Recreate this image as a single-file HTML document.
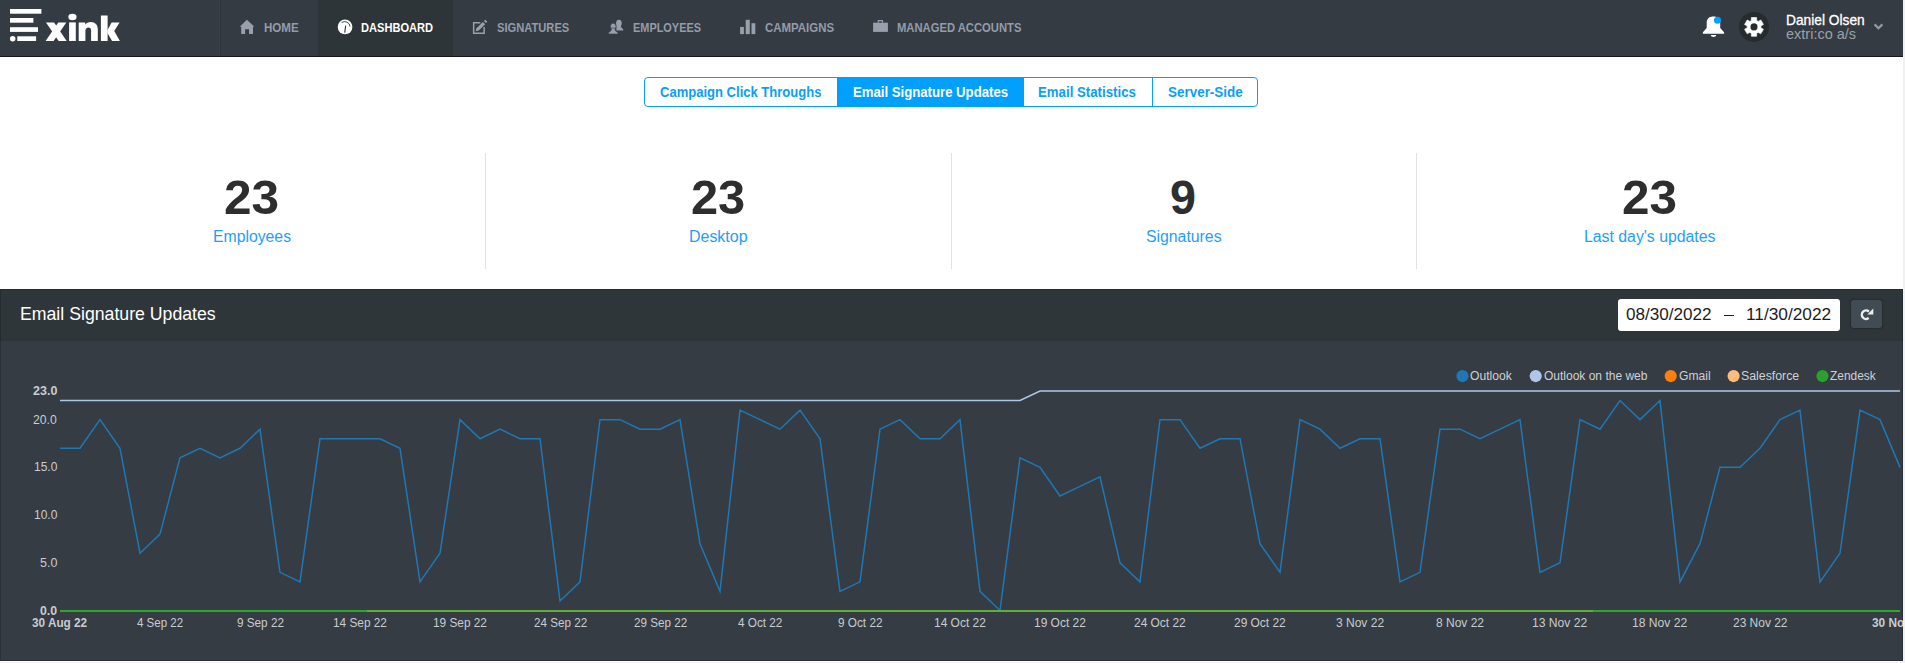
<!DOCTYPE html>
<html><head><meta charset="utf-8"><title>Xink Dashboard</title>
<style>
html,body{margin:0;padding:0;}
body{width:1905px;height:663px;overflow:hidden;background:#ffffff;font-family:"Liberation Sans",sans-serif;position:relative;}
.abs{position:absolute;}
.t{position:absolute;white-space:nowrap;display:inline-block;transform-origin:0 50%;}
#page{position:absolute;left:0;top:0;width:1903px;height:663px;overflow:hidden;background:#fff;}
#strip{position:absolute;left:1903px;top:0;width:2px;height:663px;background:#f1f1f1;}
#nav{position:absolute;left:0;top:0;width:1903px;height:56px;background:#353b43;border-bottom:1px solid #14181b;}
#navsep{position:absolute;left:220px;top:0;width:1px;height:56px;background:#2e3439;}
#navact{position:absolute;left:318px;top:0;width:135px;height:56px;background:#2e3539;}
#tabs{position:absolute;left:644px;top:77px;width:612px;height:28px;border:1px solid #0b9ef6;border-radius:4px;background:#fff;}
#tabact{position:absolute;left:837px;top:77px;width:187px;height:30px;background:#00a0fc;}
.tsep{position:absolute;top:77px;width:1px;height:30px;background:#0b9ef6;}
.div{position:absolute;top:153px;width:1px;height:116px;background:#e2e2e2;}
#phead{position:absolute;left:0;top:289px;width:1903px;height:52px;background:#2f363a;}
#pbody{position:absolute;left:0;top:341px;width:1903px;height:320px;background:#353c43;}
#date{position:absolute;left:1618px;top:299px;width:222px;height:32px;background:#fff;border-radius:3px;}
#refresh{position:absolute;left:1851px;top:300px;width:31px;height:28px;background:#414b53;border-radius:3px;box-shadow:0 0 1.5px 1px #252b2e;}
</style></head><body>
<div id="page">
<div id="nav"></div><div class="abs" style="left:219px;top:0;width:1px;height:56px;background:#394048"></div><div id="navsep"></div><div id="navact"></div>
<div id="tabs"></div><div id="tabact"></div>
<div class="tsep" style="left:1152px"></div>
<div class="div" style="left:485px"></div><div class="div" style="left:951px"></div><div class="div" style="left:1416px"></div>
<div id="phead"></div><div id="pbody"></div>
<div class="abs" style="left:0;top:289px;width:1901px;height:370px;border:1px solid rgba(0,0,0,0.2);"></div><div class="abs" style="left:0;top:662px;width:1903px;height:1px;background:#f3f3f3"></div><div id="date"></div><div id="refresh"></div><div class="abs" style="left:1723.5px;top:314.6px;width:10.8px;height:1.6px;background:#1c1c1c"></div>
<svg class="abs" style="left:0;top:0" width="1903" height="663" viewBox="0 0 1903 663"><polyline fill="none" stroke="#1f77b4" stroke-width="1.5" stroke-linejoin="miter" points="60,448.27 80,448.27 100,419.64 120,448.27 140,553.24 160,534.16 180,457.81 200,448.27 220,457.81 240,448.27 260,429.18 280,572.33 300,581.87 320,438.73 340,438.73 360,438.73 380,438.73 400,448.27 420,581.87 440,553.24 460,419.64 480,438.73 500,429.18 520,438.73 540,438.73 560,600.96 580,581.87 600,419.64 620,419.64 640,429.18 660,429.18 680,419.64 700,543.70 720,591.41 740,410.10 760,419.64 780,429.18 800,410.10 820,438.73 840,591.41 860,581.87 880,429.18 900,419.64 920,438.73 940,438.73 960,419.64 980,591.41 1000,610.50 1020,457.81 1040,467.36 1060,495.98 1080,486.44 1100,476.90 1120,562.78 1140,581.87 1160,419.64 1180,419.64 1200,448.27 1220,438.73 1240,438.73 1260,543.70 1280,572.33 1300,419.64 1320,429.18 1340,448.27 1360,438.73 1380,438.73 1400,581.87 1420,572.33 1440,429.18 1460,429.18 1480,438.73 1500,429.18 1520,419.64 1540,572.33 1560,562.78 1580,419.64 1600,429.18 1620,400.55 1640,419.64 1660,400.55 1680,581.87 1700,543.70 1720,467.36 1740,467.36 1760,448.27 1780,419.64 1800,410.10 1820,581.87 1840,553.24 1860,410.10 1880,419.64 1900,467.36"/><polyline fill="none" stroke="#aec7e8" stroke-width="1.5" points="60,400.55 80,400.55 100,400.55 120,400.55 140,400.55 160,400.55 180,400.55 200,400.55 220,400.55 240,400.55 260,400.55 280,400.55 300,400.55 320,400.55 340,400.55 360,400.55 380,400.55 400,400.55 420,400.55 440,400.55 460,400.55 480,400.55 500,400.55 520,400.55 540,400.55 560,400.55 580,400.55 600,400.55 620,400.55 640,400.55 660,400.55 680,400.55 700,400.55 720,400.55 740,400.55 760,400.55 780,400.55 800,400.55 820,400.55 840,400.55 860,400.55 880,400.55 900,400.55 920,400.55 940,400.55 960,400.55 980,400.55 1000,400.55 1020,400.55 1040,391.01 1060,391.01 1080,391.01 1100,391.01 1120,391.01 1140,391.01 1160,391.01 1180,391.01 1200,391.01 1220,391.01 1240,391.01 1260,391.01 1280,391.01 1300,391.01 1320,391.01 1340,391.01 1360,391.01 1380,391.01 1400,391.01 1420,391.01 1440,391.01 1460,391.01 1480,391.01 1500,391.01 1520,391.01 1540,391.01 1560,391.01 1580,391.01 1600,391.01 1620,391.01 1640,391.01 1660,391.01 1680,391.01 1700,391.01 1720,391.01 1740,391.01 1760,391.01 1780,391.01 1800,391.01 1820,391.01 1840,391.01 1860,391.01 1880,391.01 1900,391.01"/><rect x="60" y="610" width="307" height="2" fill="#2ca92c"/><rect x="367" y="610" width="1226" height="2" fill="#62ac38"/><rect x="1593" y="610" width="307" height="2" fill="#2ca92c"/><circle cx="1462.5" cy="376.05" r="6.1" fill="#1f77b4"/><circle cx="1535.7" cy="376.05" r="6.1" fill="#aec7e8"/><circle cx="1670.7" cy="376.05" r="6.1" fill="#ff7f0e"/><circle cx="1733.6" cy="376.05" r="6.1" fill="#ffbb78"/><circle cx="1822.5" cy="376.05" r="6.1" fill="#2ca02c"/></svg>
<svg class="abs" style="left:0;top:0" width="1903" height="663" viewBox="0 0 1903 663">
<g fill="#fff">
<rect x="10" y="9" width="31.4" height="4.7"/>
<rect x="10" y="18" width="23.4" height="4.7"/>
<rect x="10" y="27.2" width="28" height="4.7"/>
<circle cx="12.7" cy="38.75" r="2.75"/>
<rect x="17.3" y="36.3" width="18.8" height="4.7"/>
<path d="M46 22.4H54.1L66.7 41H58.7Z"/>
<path d="M58.3 22.4H66.3L53.6 41H45.6Z"/>
<rect x="69.1" y="22.4" width="6.7" height="18.6"/>
<ellipse cx="72.45" cy="17" rx="4.1" ry="3.3"/>
<path d="M78.7 41V22.4H85.2V24.7C86.4 23 88.4 22 90.7 22C95.3 22 97.8 24.9 97.8 29.5V41H91.1V30.6C91.1 28.5 90.2 27.4 88.5 27.4C86.6 27.4 85.4 28.7 85.4 30.9V41Z"/>
<rect x="100.9" y="15.5" width="6.7" height="25.5"/>
<path d="M107.4 30.2L111.6 22.4H119.6L114.2 31L119.9 41H112.1L107.4 33Z"/>
</g>
<path fill="#98a0ab" d="M246.9 19.7L254.4 26.8H253V34H249V29.2H245.1V34H241.2V26.8H239.7Z"/>
<circle cx="345.05" cy="26.95" r="7.35" fill="#fff"/>
<path d="M344.7 32.6L345.7 25.6" stroke="#2e3539" stroke-width="1.1" fill="none"/>
<path d="M341.6 22.6A5.3 5.3 0 0 1 350 26.6" stroke="#2e3539" stroke-width="0.9" fill="none"/>
<path d="M480.4 22.75H473.65V33.25H484.15V27" stroke="#98a0ab" stroke-width="1.5" fill="none"/>
<path d="M475.6 31.3L476.5 28.3L482.9 21.9L485.2 24.2L478.8 30.6Z" fill="#98a0ab"/>
<path d="M483.9 21L485.3 19.7L487.3 21.7L486 23.1Z" fill="#98a0ab"/>
<g fill="#98a0ab">
<ellipse cx="618.9" cy="23.2" rx="2.8" ry="3.4"/>
<path d="M616.4 30.6V25H620.9V26.6C621.3 28.5 623.4 28.2 623.4 30.6Z"/>
</g>
<g fill="#98a0ab" stroke="#353b43" stroke-width="0.6">
<ellipse cx="613.2" cy="26.5" rx="2.75" ry="3.35"/>
<path d="M608.3 34C608.3 31.4 610.9 31.9 611.3 30V28H615.1V30C615.5 31.9 618.2 31.4 618.2 34Z"/>
</g>
<g fill="#98a0ab">
<rect x="740.1" y="26.9" width="3.8" height="7.2"/>
<rect x="745.7" y="19.8" width="4.1" height="14.3"/>
<rect x="751.5" y="23.2" width="3.8" height="10.9"/>
</g>
<rect x="873.1" y="22.7" width="14.8" height="9.2" fill="#98a0ab"/>
<path d="M878.3 22.7V20.7H882.5V22.7" stroke="#98a0ab" stroke-width="1.2" fill="none"/>
<path fill="#fff" d="M1702.9 33.8V32.2L1706.7 28V22.6C1706.7 18.6 1709.5 16.5 1713.5 16.5C1717.5 16.5 1720.2 18.6 1720.2 22.6V28L1724.1 32.2V33.8Z"/>
<path fill="#fff" d="M1710.8 34.9H1716.2C1716.2 36.2 1715 36.9 1713.5 36.9C1712 36.9 1710.8 36.2 1710.8 34.9Z"/>
<circle cx="1717.5" cy="20.3" r="3.55" fill="#02a1fb"/>
<circle cx="1754.0" cy="26.9" r="15" fill="#262b2f"/>
<path fill="#fff" fill-rule="evenodd" stroke="#fff" stroke-width="0.6" stroke-linejoin="round" d="M1756.70 20.55L1756.61 17.50L1751.39 17.50L1751.30 20.55L1749.85 21.39L1747.17 19.95L1744.56 24.46L1747.15 26.06L1747.15 27.74L1744.56 29.34L1747.17 33.85L1749.85 32.41L1751.30 33.25L1751.39 36.30L1756.61 36.30L1756.70 33.25L1758.15 32.41L1760.83 33.85L1763.44 29.34L1760.85 27.74L1760.85 26.06L1763.44 24.46L1760.83 19.95L1758.15 21.39ZM1750.40 26.90A3.6 3.6 0 1 0 1757.60 26.90A3.6 3.6 0 1 0 1750.40 26.90Z"/>
<circle cx="1754.0" cy="26.9" r="3.3000000000000003" fill="#262b2f"/>
<path d="M1874.6 24.4L1878.5 28.3L1882.4 24.4" stroke="#939ba6" stroke-width="2.2" fill="none"/>
<path d="M1868.94 311.54A4.25 4.25 0 1 0 1868.72 318.05" stroke="#eceef0" stroke-width="2.4" fill="none"/>
<path d="M1873.3 308.6V314.4H1867.3Z" fill="#eceef0"/>
</svg>
<span id="t0" class="t" style="left:263.73px;top:21.50px;font-size:12.4px;line-height:12.4px;color:#949ca8;font-weight:bold;transform:scaleX(0.9346);">HOME</span>
<span id="t1" class="t" style="left:361.29px;top:21.50px;font-size:12.4px;line-height:12.4px;color:#ffffff;font-weight:bold;transform:scaleX(0.8951);">DASHBOARD</span>
<span id="t2" class="t" style="left:496.92px;top:21.50px;font-size:12.4px;line-height:12.4px;color:#949ca8;font-weight:bold;transform:scaleX(0.9003);">SIGNATURES</span>
<span id="t3" class="t" style="left:632.88px;top:21.50px;font-size:12.4px;line-height:12.4px;color:#949ca8;font-weight:bold;transform:scaleX(0.8822);">EMPLOYEES</span>
<span id="t4" class="t" style="left:764.64px;top:21.50px;font-size:12.4px;line-height:12.4px;color:#949ca8;font-weight:bold;transform:scaleX(0.9233);">CAMPAIGNS</span>
<span id="t5" class="t" style="left:897.06px;top:21.50px;font-size:12.4px;line-height:12.4px;color:#949ca8;font-weight:bold;transform:scaleX(0.9064);">MANAGED ACCOUNTS</span>
<span id="t6" class="t" style="left:1785.97px;top:12.80px;font-size:14.3px;line-height:14.3px;color:#ffffff;font-weight:normal;transform:scaleX(0.9616);-webkit-text-stroke:0.3px #fff;">Daniel Olsen</span>
<span id="t7" class="t" style="left:1786.13px;top:26.80px;font-size:14.3px;line-height:14.3px;color:#9aa1a9;font-weight:normal;transform:scaleX(1.0140);">extri:co a/s</span>
<span id="t8" class="t" style="left:660.21px;top:85.92px;font-size:13.8px;line-height:13.8px;color:#0b9ef6;font-weight:bold;transform:scaleX(0.9444);">Campaign Click Throughs</span>
<span id="t9" class="t" style="left:852.84px;top:85.92px;font-size:13.8px;line-height:13.8px;color:#ffffff;font-weight:bold;transform:scaleX(0.9537);">Email Signature Updates</span>
<span id="t10" class="t" style="left:1038.38px;top:85.92px;font-size:13.8px;line-height:13.8px;color:#0b9ef6;font-weight:bold;transform:scaleX(0.9598);">Email Statistics</span>
<span id="t11" class="t" style="left:1167.62px;top:85.92px;font-size:13.8px;line-height:13.8px;color:#0b9ef6;font-weight:bold;transform:scaleX(0.9746);">Server-Side</span>
<span id="t12" class="t" style="left:224.26px;top:174.47px;font-size:48px;line-height:48px;color:#2e2e2e;font-weight:bold;transform:scaleX(1.0323);">23</span>
<span id="t13" class="t" style="left:690.59px;top:174.47px;font-size:48px;line-height:48px;color:#2e2e2e;font-weight:bold;transform:scaleX(1.0154);">23</span>
<span id="t14" class="t" style="left:1170.28px;top:174.47px;font-size:48px;line-height:48px;color:#2e2e2e;font-weight:bold;transform:scaleX(0.9731);">9</span>
<span id="t15" class="t" style="left:1622.07px;top:174.47px;font-size:48px;line-height:48px;color:#2e2e2e;font-weight:bold;transform:scaleX(1.0293);">23</span>
<span id="t16" class="t" style="left:213.45px;top:229.26px;font-size:16px;line-height:16px;color:#1f9ef6;font-weight:normal;transform:scaleX(0.9857);">Employees</span>
<span id="t17" class="t" style="left:689.02px;top:229.26px;font-size:16px;line-height:16px;color:#1f9ef6;font-weight:normal;transform:scaleX(0.9971);">Desktop</span>
<span id="t18" class="t" style="left:1145.73px;top:229.26px;font-size:16px;line-height:16px;color:#1f9ef6;font-weight:normal;transform:scaleX(0.9875);">Signatures</span>
<span id="t19" class="t" style="left:1584.44px;top:229.26px;font-size:16px;line-height:16px;color:#1f9ef6;font-weight:normal;transform:scaleX(0.9890);">Last day&#39;s updates</span>
<span id="t20" class="t" style="left:20.02px;top:305.06px;font-size:18px;line-height:18px;color:#ffffff;font-weight:normal;transform:scaleX(0.9828);">Email Signature Updates</span>
<span id="t21" class="t" style="left:1625.73px;top:307.21px;font-size:16px;line-height:16px;color:#1c1c1c;font-weight:normal;transform:scaleX(1.0670);">08/30/2022</span>
<span id="t22" class="t" style="left:1745.98px;top:307.21px;font-size:16px;line-height:16px;color:#1c1c1c;font-weight:normal;transform:scaleX(1.0788);">11/30/2022</span>
<span id="t23" class="t" style="left:1470.08px;top:369.84px;font-size:12px;line-height:12px;color:#cfd2d5;font-weight:normal;transform:scaleX(1.0099);">Outlook</span>
<span id="t24" class="t" style="left:1543.61px;top:369.84px;font-size:12px;line-height:12px;color:#cfd2d5;font-weight:normal;transform:scaleX(1.0002);">Outlook on the web</span>
<span id="t25" class="t" style="left:1678.57px;top:369.84px;font-size:12px;line-height:12px;color:#cfd2d5;font-weight:normal;transform:scaleX(1.0099);">Gmail</span>
<span id="t26" class="t" style="left:1740.98px;top:369.84px;font-size:12px;line-height:12px;color:#cfd2d5;font-weight:normal;transform:scaleX(1.0262);">Salesforce</span>
<span id="t27" class="t" style="left:1830.17px;top:369.84px;font-size:12px;line-height:12px;color:#cfd2d5;font-weight:normal;transform:scaleX(0.9937);">Zendesk</span>
<span id="t28" class="t" style="left:32.66px;top:384.94px;font-size:12px;line-height:12px;color:#c9ccd0;font-weight:bold;transform:scaleX(1.0432);">23.0</span>
<span id="t29" class="t" style="left:33.34px;top:414.04px;font-size:12px;line-height:12px;color:#c9ccd0;font-weight:normal;transform:scaleX(1.0182);">20.0</span>
<span id="t30" class="t" style="left:33.95px;top:460.84px;font-size:12px;line-height:12px;color:#c9ccd0;font-weight:normal;transform:scaleX(1.0005);">15.0</span>
<span id="t31" class="t" style="left:33.95px;top:508.84px;font-size:12px;line-height:12px;color:#c9ccd0;font-weight:normal;transform:scaleX(1.0005);">10.0</span>
<span id="t32" class="t" style="left:40.03px;top:556.64px;font-size:12px;line-height:12px;color:#c9ccd0;font-weight:normal;transform:scaleX(1.0411);">5.0</span>
<span id="t33" class="t" style="left:40.21px;top:604.84px;font-size:12px;line-height:12px;color:#c9ccd0;font-weight:bold;transform:scaleX(1.0247);">0.0</span>
<span id="t34" class="t" style="left:32.29px;top:616.94px;font-size:12px;line-height:12px;color:#c9ccd0;font-weight:bold;transform:scaleX(0.9806);">30 Aug 22</span>
<span id="t35" class="t" style="left:137.32px;top:616.94px;font-size:12px;line-height:12px;color:#c9ccd0;font-weight:normal;transform:scaleX(0.9599);">4 Sep 22</span>
<span id="t36" class="t" style="left:236.51px;top:616.94px;font-size:12px;line-height:12px;color:#c9ccd0;font-weight:normal;transform:scaleX(0.9769);">9 Sep 22</span>
<span id="t37" class="t" style="left:333.07px;top:616.94px;font-size:12px;line-height:12px;color:#c9ccd0;font-weight:normal;transform:scaleX(0.9847);">14 Sep 22</span>
<span id="t38" class="t" style="left:433.07px;top:616.94px;font-size:12px;line-height:12px;color:#c9ccd0;font-weight:normal;transform:scaleX(0.9847);">19 Sep 22</span>
<span id="t39" class="t" style="left:533.76px;top:616.94px;font-size:12px;line-height:12px;color:#c9ccd0;font-weight:normal;transform:scaleX(0.9720);">24 Sep 22</span>
<span id="t40" class="t" style="left:633.76px;top:616.94px;font-size:12px;line-height:12px;color:#c9ccd0;font-weight:normal;transform:scaleX(0.9720);">29 Sep 22</span>
<span id="t41" class="t" style="left:737.86px;top:616.94px;font-size:12px;line-height:12px;color:#c9ccd0;font-weight:normal;transform:scaleX(0.9771);">4 Oct 22</span>
<span id="t42" class="t" style="left:837.69px;top:616.94px;font-size:12px;line-height:12px;color:#c9ccd0;font-weight:normal;transform:scaleX(0.9808);">9 Oct 22</span>
<span id="t43" class="t" style="left:934.00px;top:616.94px;font-size:12px;line-height:12px;color:#c9ccd0;font-weight:normal;transform:scaleX(0.9964);">14 Oct 22</span>
<span id="t44" class="t" style="left:1034.00px;top:616.94px;font-size:12px;line-height:12px;color:#c9ccd0;font-weight:normal;transform:scaleX(0.9964);">19 Oct 22</span>
<span id="t45" class="t" style="left:1134.11px;top:616.94px;font-size:12px;line-height:12px;color:#c9ccd0;font-weight:normal;transform:scaleX(0.9943);">24 Oct 22</span>
<span id="t46" class="t" style="left:1234.11px;top:616.94px;font-size:12px;line-height:12px;color:#c9ccd0;font-weight:normal;transform:scaleX(0.9943);">29 Oct 22</span>
<span id="t47" class="t" style="left:1335.93px;top:616.94px;font-size:12px;line-height:12px;color:#c9ccd0;font-weight:normal;transform:scaleX(1.0007);">3 Nov 22</span>
<span id="t48" class="t" style="left:1435.99px;top:616.94px;font-size:12px;line-height:12px;color:#c9ccd0;font-weight:normal;transform:scaleX(0.9994);">8 Nov 22</span>
<span id="t49" class="t" style="left:1532.41px;top:616.94px;font-size:12px;line-height:12px;color:#c9ccd0;font-weight:normal;transform:scaleX(1.0090);">13 Nov 22</span>
<span id="t50" class="t" style="left:1632.41px;top:616.94px;font-size:12px;line-height:12px;color:#c9ccd0;font-weight:normal;transform:scaleX(1.0090);">18 Nov 22</span>
<span id="t51" class="t" style="left:1733.11px;top:616.94px;font-size:12px;line-height:12px;color:#c9ccd0;font-weight:normal;transform:scaleX(0.9961);">23 Nov 22</span>
<span id="t52" class="t" style="left:1872.00px;top:616.84px;font-size:12px;line-height:12px;color:#c9ccd0;font-weight:bold;transform:scaleX(0.9870);">30 Nov 22</span>
</div>
<div id="strip"></div>
</body></html>
